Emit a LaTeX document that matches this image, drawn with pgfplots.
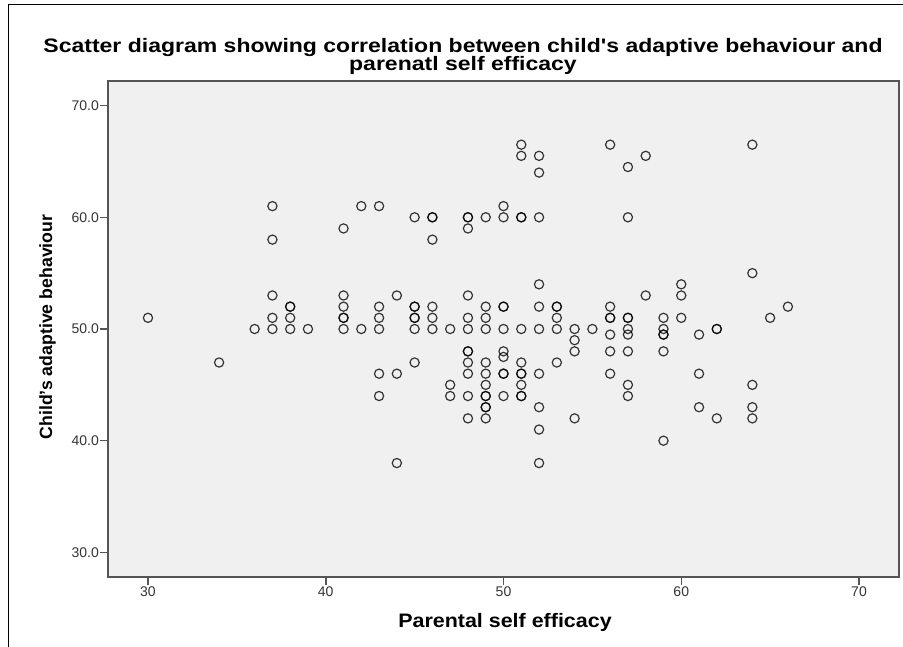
\documentclass[border=0pt]{standalone}
\usepackage{pgfplots}
\pgfplotsset{compat=1.18}
\usepackage{fontspec}
\setmainfont{Liberation Sans}
\newfontfamily\lblfont[FakeStretch=1.1]{Liberation Sans}
\newfontfamily\titlefont[FakeStretch=1.18]{Liberation Sans}
\definecolor{plotbg}{HTML}{F0F0F0}
\definecolor{axgray}{HTML}{555555}
\definecolor{tickgray}{HTML}{333333}

% x = parental self efficacy, y = child's adaptive behaviour
\pgfplotstableread{
x y
30 51
34 47
36 50
37 61
37 58
37 53
37 51
37 50
38 52
38 52
38 51
38 50
39 50
41 59
41 53
41 52
41 51
41 51
41 50
42 61
42 50
43 61
43 52
43 51
43 50
43 46
43 44
44 53
44 46
44 38
45 60
45 52
45 52
45 51
45 51
45 50
45 47
46 60
46 60
46 58
46 52
46 51
46 50
47 50
47 45
47 44
48 60
48 60
48 59
48 53
48 51
48 50
48 48
48 48
48 47
48 46
48 44
48 42
49 60
49 52
49 51
49 50
49 47
49 46
49 45
49 44
49 44
49 43
49 43
49 42
50 61
50 60
50 52
50 52
50 50
50 48
50 47.5
50 46
50 46
50 44
51 66.5
51 65.5
51 60
51 60
51 50
51 47
51 46
51 46
51 45
51 44
51 44
52 65.5
52 64
52 60
52 54
52 52
52 50
52 46
52 43
52 41
52 38
53 52
53 52
53 51
53 50
53 47
54 50
54 49
54 48
54 42
55 50
56 66.5
56 52
56 51
56 51
56 49.5
56 48
56 46
57 64.5
57 60
57 51
57 51
57 50
57 49.5
57 48
57 45
57 44
58 65.5
58 53
59 51
59 50
59 49.5
59 49.5
59 48
59 40
60 54
60 53
60 51
61 49.5
61 46
61 43
62 50
62 50
62 42
64 66.5
64 55
64 45
64 43
64 42
65 51
66 52
}\scatterdata

\begin{document}
\begin{tikzpicture}[x=1pt,y=1pt]
\path[use as bounding box] (0,0) rectangle (903,-647);
\draw[black, line width=1pt] (8,-647) -- (8,-5) -- (903,-5);
\begin{axis}[
    at={(108pt,-577pt)}, anchor=south west,
    scale only axis,
    width=791pt, height=496pt,
    xmin=27.75, xmax=72.25,
    ymin=27.8, ymax=72.2,
    xtick={30,40,50,60,70},
    ytick={30,40,50,60,70},
    yticklabel style={/pgf/number format/fixed, /pgf/number format/fixed zerofill,
        /pgf/number format/precision=1, inner sep=1pt},
    /pgf/number format/assume math mode=true,
    axis background/.style={fill=plotbg},
    axis line style={draw=axgray, line width=1.5pt},
    major tick style={draw=axgray, line width=1.5pt},
    tick align=outside,
    major tick length=8pt,
    xtick pos=lower, ytick pos=left,
    tick label style={font=\fontsize{14}{14}\selectfont, text=tickgray},
    xticklabel style={inner sep=1pt, yshift=-1pt},
]
\addplot[only marks, mark=o, mark size=4.6pt,
    mark options={draw=black, line width=1.2pt, draw opacity=0.78}]
    table[x=x, y=y] {\scatterdata};
\end{axis}
\node[anchor=base, inner sep=0pt, text height=8pt, text depth=0pt,
    font=\titlefont\bfseries\fontsize{19.5}{20}\selectfont] at (463,-53)
    {Scatter diagram showing correlation between child's adaptive behaviour and};
\node[anchor=base, inner sep=0pt, text height=8pt, text depth=0pt,
    font=\titlefont\bfseries\fontsize{19.5}{20}\selectfont] at (463,-71)
    {parenatl self efficacy};
\node[anchor=base, font=\lblfont\bfseries\fontsize{19.5}{20}\selectfont] at (505,-627)
    {Parental self efficacy};
\node[anchor=base, rotate=90, font=\bfseries\fontsize{17.7}{18}\selectfont] at (52,-327)
    {Child's adaptive behaviour};
\end{tikzpicture}
\end{document}
